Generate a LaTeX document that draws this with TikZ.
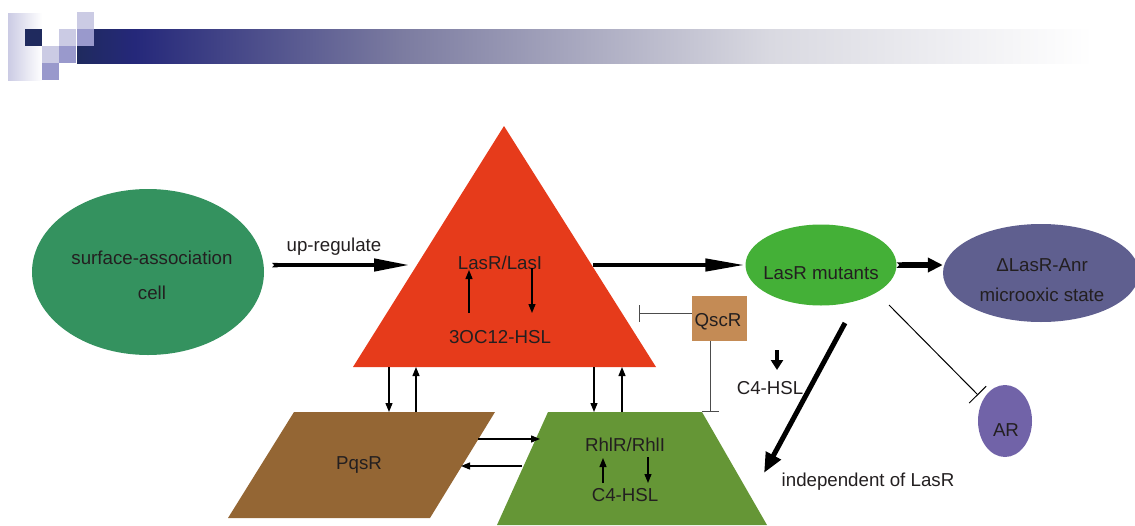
\documentclass[tikz,border=0pt]{standalone}
\usepackage{fontspec}
\setmainfont{Liberation Sans}
\usepackage{tikz}
\usetikzlibrary{arrows.meta, positioning, shapes.geometric}
\definecolor{barDark}{HTML}{1F2A5E}
\definecolor{barNavy}{HTML}{25287A}
\definecolor{barMid}{HTML}{7B7BA0}
\definecolor{barPale}{HTML}{D9D9E1}
\definecolor{sqLight}{HTML}{CBCBE4}
\definecolor{sqMid}{HTML}{9999CC}
\definecolor{surfGreen}{HTML}{34925F}
\definecolor{lasRed}{HTML}{E63B1B}
\definecolor{mutGreen}{HTML}{44B037}
\definecolor{anrBlue}{HTML}{5F5F8F}
\definecolor{arPurple}{HTML}{7163A8}
\definecolor{qscBrown}{HTML}{C48B55}
\definecolor{pqsBrown}{HTML}{946634}
\definecolor{rhlGreen}{HTML}{659636}
\definecolor{inkGray}{HTML}{231F20}
\tikzset{
    txt/.style={font=\fontsize{18.7}{22}\selectfont, text=inkGray, inner sep=0pt},
    blob/.style={ellipse, inner sep=0pt, draw=none},
    flecha/.style={-{Triangle[length=9pt, width=7pt]}, line width=1.3pt, black},
    gruesa/.style={{Triangle Cap[reversed]}-{Triangle[length=36pt, width=12pt]}, line width=4.5pt, black},
    inhibe/.style={-{Bar[width=17pt, line width=1pt]}, line width=1pt, black!70}
}

\begin{document}
\begin{tikzpicture}[x=1pt, y=-1pt]
    \useasboundingbox (0,0) rectangle (1135,525);

    % Cabecera
    \shade[left color=sqLight, right color=white] (8,13) rectangle (42,80);
    \shade[left color=barDark, right color=barNavy] (77,29) rectangle (135,63);
    \shade[left color=barNavy, right color=barMid] (135,29) rectangle (400,63);
    \shade[left color=barMid, right color=barPale] (400,29) rectangle (770,63);
    \shade[left color=barPale, right color=white] (770,29) rectangle (1093,63);
    \foreach \c/\xa/\ya in {barDark/25/29, sqLight/59/29, sqMid/77/29, sqLight/77/12,
                            sqLight/42/46, sqMid/59/46, sqMid/42/63}
        \fill[\c] (\xa,\ya) rectangle ++(17,17);

    % Formas
    \node[blob, fill=surfGreen, minimum width=232pt, minimum height=166pt] (surf) at (148,272) {};
    \fill[lasRed] (504,126) -- (656,367) -- (353,367) -- cycle;
    \node[blob, fill=mutGreen, minimum width=151pt, minimum height=81pt] (mut) at (821,265) {};
    \node[blob, fill=anrBlue, minimum width=196pt, minimum height=98pt] (anr) at (1041,273) {};
    \node[blob, fill=arPurple, minimum width=54pt, minimum height=72pt] (ar) at (1005,421) {};
    \node[fill=qscBrown, minimum width=55pt, minimum height=45pt, inner sep=0pt] (qsc) at (719.5,318.5) {};
    \fill[pqsBrown] (294,412) -- (495,412) -- (430,518) -- (228,518) -- cycle;
    \fill[rhlGreen] (548,412) -- (702,412) -- (767,525) -- (497,525) -- cycle;

    % Textos
    \node[txt, align=center, font=\fontsize{18.7}{35}\selectfont] (surftxt) at (152,275) {surface-association\\cell};
    \node[txt] (uptxt) at (334,247) {up-regulate};
    \node[txt] (las) at (500,263) {LasR/LasI};
    \node[txt] (oc12) at (500,337) {3OC12-HSL};
    \node[txt] (muttxt) at (821,273) {LasR mutants};
    \node[txt, align=center, font=\fontsize{18.7}{30}\selectfont] (anrtxt) at (1042,280) {ΔLasR-Anr\\microoxic state};
    \node[txt] (qsctxt) at (718,322) {QscR};
    \node[txt] (c4a) at (770,388) {C4-HSL};
    \node[txt] (indep) at (868,482) {independent of LasR};
    \node[txt] (artxt) at (1006,430) {AR};
    \node[txt] (pqs) at (359,465) {PqsR};
    \node[txt] (rhl) at (625,445) {RhlR/RhlI};
    \node[txt] (c4b) at (625,495) {C4-HSL};

    % Puntos de enlace
    \coordinate (upA) at (272,265);
    \coordinate (upB) at (410,265);
    \coordinate (redOut) at (593,265);
    \coordinate (lasUpA) at (469,313);
    \coordinate (lasUpB) at (469,270);
    \coordinate (lasDnA) at (532,268);
    \coordinate (lasDnB) at (532,313);
    \coordinate (mutOut) at (845,323);
    \coordinate (mutTip) at (764,473);
    \coordinate (mutLine) at (889,305);
    \coordinate (arBar) at (978,395);
    \coordinate (c4Top) at (777,350);
    \coordinate (c4Bot) at (777,370);
    \coordinate (qscL) at (639,313);
    \coordinate (qscD) at (710,412);

    % Transiciones principales
    \draw[gruesa] (upA) -- (upB);
    \draw[gruesa, -{Triangle[length=40pt, width=12pt]}] (redOut) -- (mut.west);
    \draw[{Triangle Cap[reversed]}-{Triangle[length=15pt, width=14pt]}, line width=5.5pt]
        (mut.east) -- (mut.east -| anr.west);
    \draw[-{Triangle[length=20pt, width=16pt]}, line width=5pt] (mutOut) -- (mutTip);
    \draw[-{Triangle[length=10pt, width=12pt]}, line width=4pt] (c4Top) -- (c4Bot);

    % Inhibiciones
    \draw[inhibe] (qsc.west |- qscL) -- (qscL);
    \draw[inhibe] (qsc.south -| qscD) -- (qscD);
    \draw[inhibe, -{Bar[width=24pt, line width=1pt]}, black] (mutLine) -- (arBar);

    % Bucles internos
    \draw[flecha] (lasUpA) -- (lasUpB);
    \draw[flecha] (lasDnA) -- (lasDnB);
    \draw[flecha] (603,483) coordinate (rhlUpA) -- (603,458) coordinate (rhlUpB);
    \draw[flecha] (648,457) coordinate (rhlDnA) -- (648,483) coordinate (rhlDnB);

    % Enlaces entre bloques
    \foreach \xa/\xb in {389/416, 594/622} {
        \draw[flecha] (\xa,367) -- (\xa,412);
        \draw[flecha] (\xb,412) -- (\xb,367);
    }
    \draw[flecha] (478,439) coordinate (pqsOut) -- (540,439) coordinate (rhlIn);
    \draw[flecha] (522,466) coordinate (rhlOut) -- (461,466) coordinate (pqsIn);
\end{tikzpicture}
\end{document}
